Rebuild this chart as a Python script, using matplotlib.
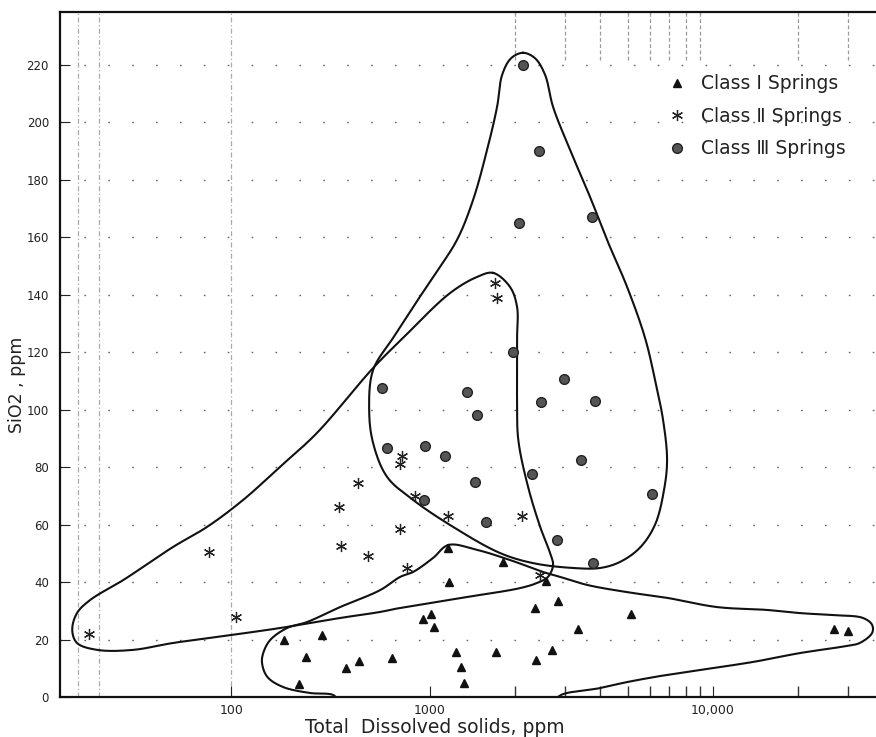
import numpy as np
import matplotlib
matplotlib.use("Agg")
import matplotlib.pyplot as plt
from matplotlib.lines import Line2D

# ---------------- data ----------------
class1_tds = [185, 238, 287, 378, 440, 644, 220, 920, 1010, 1030, 1230, 1290, 1320,
              1160, 1170, 1810, 2570, 2830, 2350, 5130, 3330, 26800, 30000, 1710, 2700, 2370]
class1_sio2 = [20, 14, 21.5, 10, 12.5, 13.5, 4.5, 27, 29, 24.5, 15.5, 10.5, 5,
               52, 40, 47, 40.5, 33.5, 31, 29, 23.5, 23.5, 23, 15.5, 16.5, 13]

class2_tds = [19.3, 106, 77.5, 349, 435, 357, 488, 723, 707, 841, 707, 766, 1160, 2110, 2450, 1700, 1725]
class2_sio2 = [22, 28, 50.5, 66, 74.5, 52.5, 49, 84, 81, 70, 58.5, 45, 63, 63, 42.5, 144, 139]

class3_tds = [2130, 2430, 3740, 2060, 1965, 2975, 574, 1350, 2470, 3830, 1470, 608, 944, 1130,
              3420, 2290, 1440, 933, 1580, 2810, 3770, 6090]
class3_sio2 = [220, 190, 167, 165, 120, 110.5, 107.5, 106, 102.5, 103, 98, 86.5, 87.5, 84,
               82.5, 77.5, 75, 68.5, 61, 54.5, 46.5, 70.5]

# envelopes (TDS, SiO2)
env3_tds = [2130, 2350, 2550, 2720, 3124, 3677, 4220, 4970, 5750, 6240, 6660, 6880, 6710, 6240, 5520,
            4690, 3990, 3200, 2310, 1767, 1206, 821, 608, 517, 494, 517, 652, 821, 1025, 1245, 1419,
            1590, 1725, 1797, 1933]
env3_sio2 = [224.2, 222.3, 216.5, 205.4, 190.4, 174, 159.1, 142.7, 125, 110.3, 96.4, 82.5, 72, 60, 52,
             47, 44.9, 44.9, 46.6, 50.1, 59.2, 68.6, 76.6, 88.4, 99.9, 113.8, 125, 135.7, 146.2, 159.1,
             173, 190.4, 205.4, 216.5, 222.3]

env2_tds = [1670, 1917, 2030, 2030, 2030, 2050, 2220, 2450, 2655, 2720, 2610, 2390, 2080, 1350, 707,
            561, 353, 176, 85, 51, 32.2, 21.2, 16.8, 15.9, 16.8, 19.6, 28.7, 51, 75.7, 115, 176, 270,
            517, 732, 1177, 1466]
env2_sio2 = [147.6, 142.7, 135.7, 125, 103.4, 89.5, 73.1, 59.2, 50.1, 45.9, 41.8, 39.7, 37.9, 34.8, 31,
             29.6, 27.5, 24, 20.9, 18.8, 16.4, 16.4, 18.8, 23.3, 29.2, 33.8, 40.7, 52.2, 59.2, 68.6, 80.1,
             91.9, 114.5, 125, 140.6, 146.2]

env1_tds = [1160, 1466, 1965, 2510, 2880, 3590, 4970, 6880, 10330, 15500, 20300, 26500, 33900, 36500,
            36500, 33000, 29800, 20300, 13850, 9000, 6880, 4970, 3990, 2950, 2655, 353, 326, 249, 182,
            152, 143, 145, 157, 191, 241, 353, 561, 707, 821, 1025]
env1_sio2 = [52.9, 51.2, 47.3, 43.5, 41.8, 39, 36.5, 34.5, 31.3, 30.3, 29.2, 28.5, 27.5, 25.1,
             22.3, 18.8, 17.8, 15.3, 12.2, 9.4, 7.7, 5.2, 3.1, 1.0, -1.5, -1.5, 0.7, 1.4, 3.5,
             7, 11.8, 15.3, 19.8, 24, 26.1, 31.3, 37.2, 41.8, 43.5, 48.4]

x_major = [100, 1000, 10000]
x_major_labels = ["100", "1000", "10,000"]
x_minor = [2000, 3000, 4000, 5000, 6000, 7000, 8000, 9000, 20000, 30000]
x_grid = [17, 21.7, 100]
y_ticks = list(range(0, 221, 20))
legend_labels = ["Class \u2160 Springs", "Class \u2161 Springs", "Class \u2162 Springs"]

# ------------- scale (paper has unequal log cycles) -------------
A, B = 199.0, 283.0
YS = 2.873  # display units per SiO2 unit, for curve parametrisation


def fwd(x):
    x = np.asarray(x, dtype=float)
    u = np.log10(np.clip(x, 1e-9, None)) - 3.0
    return np.where(u < 0, u * A, u * B)


def inv(p):
    p = np.asarray(p, dtype=float)
    return np.where(p < 0, 10 ** (3.0 + p / A), 10 ** (3.0 + p / B))


def smooth_closed(xs, ys, n=20):
    """centripetal Catmull-Rom through the traced vertices (closed)."""
    P = np.column_stack([fwd(np.array(xs)), np.array(ys, dtype=float) * YS])
    m = len(P)
    out = []
    for i in range(m):
        p0, p1, p2, p3 = P[i - 1], P[i], P[(i + 1) % m], P[(i + 2) % m]
        t0 = 0.0
        t1 = t0 + np.linalg.norm(p1 - p0) ** 0.5 + 1e-6
        t2 = t1 + np.linalg.norm(p2 - p1) ** 0.5 + 1e-6
        t3 = t2 + np.linalg.norm(p3 - p2) ** 0.5 + 1e-6
        t = np.linspace(t1, t2, n, endpoint=False)[:, None]
        a1 = (t1 - t) / (t1 - t0) * p0 + (t - t0) / (t1 - t0) * p1
        a2 = (t2 - t) / (t2 - t1) * p1 + (t - t1) / (t2 - t1) * p2
        a3 = (t3 - t) / (t3 - t2) * p2 + (t - t2) / (t3 - t2) * p3
        b1 = (t2 - t) / (t2 - t0) * a1 + (t - t0) / (t2 - t0) * a2
        b2 = (t3 - t) / (t3 - t1) * a2 + (t - t1) / (t3 - t1) * a3
        c = (t2 - t) / (t2 - t1) * b1 + (t - t1) / (t2 - t1) * b2
        out.append(c)
    out.append(P[:1])
    out = np.vstack(out)
    return inv(out[:, 0]), out[:, 1] / YS


plt.rcParams['font.family'] = ['DejaVu Sans', 'Noto Sans CJK JP']

fig = plt.figure(figsize=(8.76, 7.37), dpi=100)
ax = fig.add_axes([60 / 876, 40 / 737, (876 - 60) / 876, (697 - 12) / 737])
ax.set_xscale('function', functions=(fwd, inv))
ax.set_xlim(13.8, 37670)
ax.set_ylim(0, 238.4)

# grid
for yv in y_ticks[1:]:
    ax.axhline(yv, color='#666666', lw=1.0, dashes=(1.2, 16), zorder=1)
for xv in x_grid:
    ax.axvline(xv, color='#aaaaaa', lw=0.9, dashes=(4, 2, 1, 2), zorder=1)
trans = ax.get_xaxis_transform()
ax.vlines(x_minor, 0.93, 1.0, transform=trans, color='#999999', lw=0.9,
          linestyles=(0, (3, 2)), zorder=1)

# envelopes
for ex, ey in [(env1_tds, env1_sio2), (env2_tds, env2_sio2), (env3_tds, env3_sio2)]:
    sx, sy = smooth_closed(ex, ey)
    ax.plot(sx, sy, color='#111111', lw=1.5, zorder=3)

# points
ax.plot(class1_tds, class1_sio2, ls='none', marker='^', ms=6, color='#111111', zorder=4)
ax.plot(class2_tds, class2_sio2, ls='none', marker=(6, 2, 0), ms=8, mew=0.9,
        color='#222222', zorder=4)
ax.plot(class3_tds, class3_sio2, ls='none', marker='o', ms=7, mfc='#555555', mec='#222222',
        mew=1.0, zorder=4)

# axes styling
ax.spines['right'].set_visible(False)
for s in ['left', 'bottom', 'top']:
    ax.spines[s].set_linewidth(1.6)
    ax.spines[s].set_color('#111111')

ax.set_xticks(x_major)
ax.set_xticklabels(x_major_labels)
ax.set_xticks(x_minor, minor=True)
ax.tick_params(axis='x', which='major', direction='in', length=8, labelsize=9, pad=5,
               colors='#222222')
ax.tick_params(axis='x', which='minor', direction='in', length=8, width=1.0, colors='#333333')
ax.set_yticks(y_ticks)
ax.tick_params(axis='y', direction='in', length=7, labelsize=8.5, pad=8, colors='#222222')

ax.set_xlabel("Total  Dissolved solids, ppm", fontsize=13.5, color='#222222')
ax.xaxis.set_label_coords((435 - 60) / 816, (697 - 718) / 685)
ax.set_ylabel("SiO2 , ppm", fontsize=12.5, color='#222222')
ax.yaxis.set_label_coords((26 - 60) / 816, (697 - 385) / 685)

handles = [
    Line2D([], [], ls='none', marker='^', ms=6, color='#111111'),
    Line2D([], [], ls='none', marker=(6, 2, 0), ms=8, mew=0.9, color='#222222'),
    Line2D([], [], ls='none', marker='o', ms=7, mfc='#555555', mec='#222222'),
]
leg = ax.legend(handles, legend_labels, loc='upper left', bbox_to_anchor=(0.735, 0.92),
                frameon=False, fontsize=13.5, labelspacing=0.72, handlelength=1.0,
                handletextpad=0.8, borderaxespad=0)
for t in leg.get_texts():
    t.set_color('#222222')

fig.savefig("out.png", dpi=100)
